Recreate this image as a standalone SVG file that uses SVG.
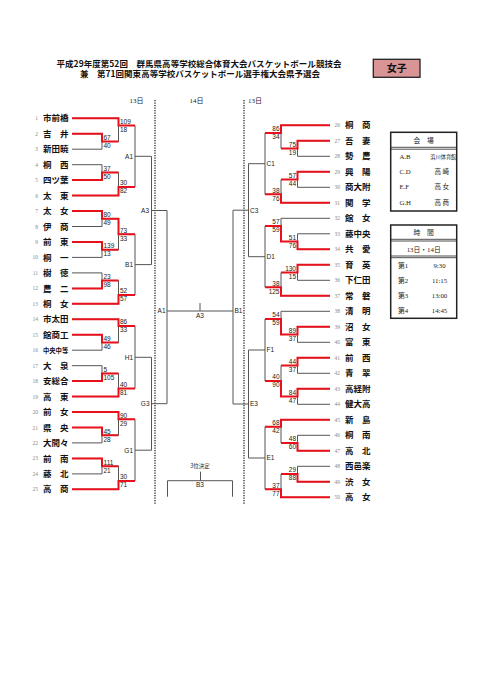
<svg xmlns="http://www.w3.org/2000/svg" width="481" height="680" viewBox="0 0 481 680">
<style>
.g{stroke:#555;stroke-width:1;fill:none}
.r{stroke:#e8101a;stroke-width:2;fill:none;stroke-linejoin:miter}
.dot{stroke:#222;stroke-width:1.3;stroke-dasharray:1.2 1.3;fill:none}
.sc{font-family:"Liberation Sans",Arial,sans-serif;font-size:6.5px;fill:#222}
.scr{font-family:"Liberation Sans",Arial,sans-serif;font-size:6.5px;fill:#222;text-anchor:end}
.lb{font-family:"Liberation Sans",Arial,sans-serif;font-size:6.5px;fill:#222}
.no{font-family:"Liberation Serif",serif;font-size:5.5px;fill:#888}
.nor{font-family:"Liberation Serif",serif;font-size:5.5px;fill:#888;text-anchor:end}
.nm{font-family:"Noto Sans CJK JP",sans-serif;font-size:8.5px;font-weight:bold;fill:#111}
.tt{font-family:"Noto Sans CJK JP",sans-serif;font-size:8.5px;font-weight:bold;fill:#111;text-anchor:middle}
.tb{font-family:"Liberation Serif","Noto Sans CJK JP",serif;font-size:6.8px;fill:#222}
.tbm{font-family:"Liberation Serif","Noto Sans CJK JP",serif;font-size:6.8px;fill:#222;text-anchor:middle}
.jp{font-family:"Noto Sans CJK JP",sans-serif}
.box{fill:none;stroke:#222;stroke-width:1.5}
.rule{stroke:#222;stroke-width:0.8}
</style>

<g id="title">
<text class="tt" x="199" y="66.5" textLength="285">平成29年度第52回　群馬県高等学校総合体育大会バスケットボール競技会</text>
<text class="tt" x="200" y="77.2" textLength="240">兼　第71回関東高等学校バスケットボール選手権大会県予選会</text>
</g>
<g id="girls-tag">
<rect x="373.3" y="59.3" width="46.7" height="18" fill="#d99595" stroke="#222" stroke-width="1.3"/>
<text class="tt" x="396.7" y="72" style="font-size:10px">女子</text>
</g>
<g id="days" class="tbm">
<text x="136.5" y="103" style="font-size:7px">13日</text>
<text x="196.5" y="103" style="font-size:7px">14日</text>
<text x="255" y="103" style="font-size:7px">13日</text>
</g>
<g id="day-dividers">
<line class="dot" x1="155" y1="100" x2="155" y2="505"/>
<line class="dot" x1="244" y1="100" x2="244" y2="505"/>
</g>

<g id="connectors">
<path class="g" d="M72 118.3H118.5 M72 133.8H102 M72 149.2H102 M102 133.8V149.2 M102 141.5H118.5 M118.5 118.3V141.5 M118.5 125.5H135 M72 164.7H102 M72 180.1H102 M102 164.7V180.1 M102 172.4H118.5 M72 195.6H118.5 M118.5 172.4V195.6 M118.5 187H135 M135 125.5V187 M135 156.3H151.5
M72 211.1H102 M72 226.5H102 M102 211.1V226.5 M102 218.8H118.5 M72 242H102 M72 257.4H102 M102 242V257.4 M102 249.7H118.5 M118.5 218.8V249.7 M118.5 234.2H135 M72 272.9H102 M72 288.4H102 M102 272.9V288.4 M102 280.6H118.5 M72 303.8H118.5 M118.5 280.6V303.8 M118.5 295H135 M135 234.2V295 M135 264.6H151.5 M151.5 156.3V264.6 M151.5 210.5H167
M72 319.3H118.5 M72 334.7H102 M72 350.2H102 M102 334.7V350.2 M102 342.5H118.5 M118.5 319.3V342.5 M118.5 326H135 M72 365.7H102 M72 381.1H102 M102 365.7V381.1 M102 373.4H118.5 M72 396.6H118.5 M118.5 373.4V396.6 M118.5 388.5H135 M135 326V388.5 M135 357.3H151.5
M72 412H118.5 M72 427.5H102 M72 442.9H102 M102 427.5V442.9 M102 435.2H118.5 M118.5 412V435.2 M118.5 419.3H135 M72 458.4H102 M72 473.9H102 M102 458.4V473.9 M102 466.2H118.5 M72 489.3H118.5 M118.5 466.2V489.3 M118.5 481H135 M135 419.3V481 M135 450.2H151.5 M151.5 357.3V450.2 M151.5 403.7H167 M167 210.5V403.7
M167 311H233 M200 303V311 M167.5 496.7V480.7H232.5V496.7 M200.5 471.7V480.7
M330 125.3H281 M330 140.8H297.5 M330 156.3H297.5 M297.5 140.8V156.3 M297.5 148.5H281 M281 125.3V148.5 M281 133H265 M330 171.8H297.5 M330 187.3H297.5 M297.5 171.8V187.3 M297.5 179.5H281 M330 202.8H281 M281 179.5V202.8 M281 194.3H265 M265 133V194.3 M265 163.7H248.5
M330 218.3H281 M330 233.8H297.5 M330 249.3H297.5 M297.5 233.8V249.3 M297.5 241.5H281 M281 218.3V241.5 M281 226H265 M330 264.8H297.5 M330 280.3H297.5 M297.5 264.8V280.3 M297.5 272.5H281 M330 295.8H281 M281 272.5V295.8 M281 287.3H265 M265 226V287.3 M265 256.7H248.5 M248.5 163.7V256.7 M248.5 210.2H233
M330 311.3H281 M330 326.8H297.5 M330 342.3H297.5 M297.5 326.8V342.3 M297.5 334.5H281 M281 311.3V334.5 M281 319H265 M330 357.8H297.5 M330 373.3H297.5 M297.5 357.8V373.3 M297.5 365.5H281 M330 388.8H297.5 M330 404.3H297.5 M297.5 388.8V404.3 M297.5 396.5H281 M281 365.5V396.5 M281 381H265 M265 319V381 M265 350H248.5
M330 419.8H281 M330 435.3H297.5 M330 450.8H297.5 M297.5 435.3V450.8 M297.5 443H281 M281 419.8V443 M281 426.7H265 M330 466.3H297.5 M330 481.8H297.5 M297.5 466.3V481.8 M297.5 474H281 M330 497.3H281 M281 474V497.3 M281 489.3H265 M265 426.7V489.3 M265 458H248.5 M248.5 350V458 M248.5 404H233 M233 210.2V404"/>
<path class="r" d="M72 118.3H118.5V125.5H135 M72 133.8H102V141.5H118.5 M72 180.1H102V172.4H118.5 M72 195.6H118.5V187H135
M72 211.1H102V218.8H118.5V234.2H135 M72 242H102V249.7H118.5 M72 288.4H102V280.6H118.5 M72 303.8H118.5V295H135
M72 319.3H118.5V326H135 M72 334.7H102V342.5H118.5 M72 381.1H102V373.4H118.5 M72 396.6H118.5V388.5H135
M72 412H118.5V419.3H135 M72 427.5H102V435.2H118.5 M72 458.4H102V466.2H118.5 M72 489.3H118.5V481H135
M330 125.3H281V133H265 M330 140.8H297.5V148.5H281 M330 171.8H297.5V179.5H281 M330 202.8H281V194.3H265
M330 249.3H297.5V241.5H281V226H265 M330 264.8H297.5V272.5H281 M330 295.8H281V287.3H265
M330 326.8H297.5V334.5H281V319H265 M330 357.8H297.5V365.5H281 M330 388.8H297.5V396.5H281V381H265
M330 419.8H281V426.7H265 M330 450.8H297.5V443H281 M330 481.8H297.5V474H281 M330 497.3H281V489.3H265"/>
</g>

<g id="scores-left" class="sc">
<text x="103.5" y="139.9">67</text><text x="103.5" y="147.9">40</text>
<text x="120" y="123.9">109</text><text x="120" y="131.9">18</text>
<text x="103.5" y="170.8">37</text><text x="103.5" y="178.8">50</text>
<text x="120" y="185.4">30</text><text x="120" y="193.4">82</text>
<text x="103.5" y="217.2">80</text><text x="103.5" y="225.2">49</text>
<text x="103.5" y="248.1">139</text><text x="103.5" y="256.1">13</text>
<text x="120" y="232.6">73</text><text x="120" y="240.6">33</text>
<text x="103.5" y="279">23</text><text x="103.5" y="287">98</text>
<text x="120" y="293.4">52</text><text x="120" y="301.4">57</text>
<text x="103.5" y="340.9">49</text><text x="103.5" y="348.9">46</text>
<text x="120" y="324.4">86</text><text x="120" y="332.4">33</text>
<text x="103.5" y="371.8">5</text><text x="103.5" y="379.8">105</text>
<text x="120" y="386.9">40</text><text x="120" y="394.9">81</text>
<text x="103.5" y="433.6">45</text><text x="103.5" y="441.6">28</text>
<text x="120" y="417.7">90</text><text x="120" y="425.7">29</text>
<text x="103.5" y="464.6">111</text><text x="103.5" y="472.6">21</text>
<text x="120" y="479.4">30</text><text x="120" y="487.4">71</text>
</g>
<g id="scores-right" class="scr">
<text x="296" y="146.9">75</text><text x="296" y="154.9">19</text>
<text x="279.5" y="131.4">86</text><text x="279.5" y="139.4">34</text>
<text x="296" y="177.9">57</text><text x="296" y="185.9">44</text>
<text x="279.5" y="192.7">38</text><text x="279.5" y="200.7">76</text>
<text x="296" y="239.9">51</text><text x="296" y="247.9">76</text>
<text x="279.5" y="224.4">57</text><text x="279.5" y="232.4">59</text>
<text x="296" y="270.9">130</text><text x="296" y="278.9">15</text>
<text x="279.5" y="285.7">38</text><text x="279.5" y="293.7">125</text>
<text x="296" y="332.9">89</text><text x="296" y="340.9">37</text>
<text x="279.5" y="317.4">54</text><text x="279.5" y="325.4">59</text>
<text x="296" y="363.9">44</text><text x="296" y="371.9">37</text>
<text x="296" y="394.9">84</text><text x="296" y="402.9">47</text>
<text x="279.5" y="379.4">40</text><text x="279.5" y="387.4">90</text>
<text x="296" y="441.4">48</text><text x="296" y="449.4">60</text>
<text x="279.5" y="425.1">68</text><text x="279.5" y="433.1">42</text>
<text x="296" y="472.4">29</text><text x="296" y="480.4">88</text>
<text x="279.5" y="487.7">37</text><text x="279.5" y="495.7">77</text>
</g>

<g id="game-labels" class="lb">
<text id="g-A1" x="133" y="158.6" text-anchor="end">A1</text>
<text id="g-B1" x="133" y="266.9" text-anchor="end">B1</text>
<text id="g-A3" x="149" y="212.8" text-anchor="end">A3</text>
<text id="g-H1" x="133" y="359.6" text-anchor="end">H1</text>
<text id="g-G1" x="133" y="452.5" text-anchor="end">G1</text>
<text id="g-G3" x="149.5" y="406" text-anchor="end">G3</text>
<text id="g-semiA1" x="165.5" y="313.3" text-anchor="end">A1</text>
<text id="g-semiB1" x="234.5" y="313.3">B1</text>
<text id="g-finalA3" x="200" y="317.8" text-anchor="middle">A3</text>
<text id="g-C1" x="266.5" y="166">C1</text>
<text id="g-D1" x="266.5" y="259">D1</text>
<text id="g-C3" x="250" y="212.5">C3</text>
<text id="g-F1" x="266.5" y="352.3">F1</text>
<text id="g-E1" x="266.5" y="460.3">E1</text>
<text id="g-E3" x="250" y="406.3">E3</text>
<text id="g-3rd" x="200" y="468" text-anchor="middle" style="font-family:'Noto Sans CJK JP',sans-serif;font-size:5.5px">3位決定</text>
<text id="g-B3" x="200" y="487.3" text-anchor="middle">B3</text>
</g>

<g id="teams-left">
<g id="t1"><text class="nor" x="38" y="120.3">1</text><text class="nm" x="43" y="121.4">市前橋</text></g>
<g id="t2"><text class="nor" x="38" y="135.8">2</text><text class="nm" x="43 60" y="136.9">吉井</text></g>
<g id="t3"><text class="nor" x="38" y="151.2">3</text><text class="nm" x="43" y="152.3">新田暁</text></g>
<g id="t4"><text class="nor" x="38" y="166.7">4</text><text class="nm" x="43 60" y="167.8">桐西</text></g>
<g id="t5"><text class="nor" x="38" y="182.1">5</text><text class="nm" x="43" y="183.2">四ツ葉</text></g>
<g id="t6"><text class="nor" x="38" y="197.6">6</text><text class="nm" x="43 60" y="198.7">太東</text></g>
<g id="t7"><text class="nor" x="38" y="213.1">7</text><text class="nm" x="43 60" y="214.2">太女</text></g>
<g id="t8"><text class="nor" x="38" y="228.5">8</text><text class="nm" x="43 60" y="229.6">伊商</text></g>
<g id="t9"><text class="nor" x="38" y="244">9</text><text class="nm" x="43 60" y="245.1">前東</text></g>
<g id="t10"><text class="nor" x="38" y="259.4">10</text><text class="nm" x="43 60" y="260.5">桐一</text></g>
<g id="t11"><text class="nor" x="38" y="274.9">11</text><text class="nm" x="43 60" y="276">樹徳</text></g>
<g id="t12"><text class="nor" x="38" y="290.4">12</text><text class="nm" x="43 60" y="291.5">農二</text></g>
<g id="t13"><text class="nor" x="38" y="305.8">13</text><text class="nm" x="43 60" y="306.9">桐女</text></g>
<g id="t14"><text class="nor" x="38" y="321.3">14</text><text class="nm" x="43" y="322.4">市太田</text></g>
<g id="t15"><text class="nor" x="38" y="336.7">15</text><text class="nm" x="43" y="337.8">館商工</text></g>
<g id="t16"><text class="nor" x="38" y="352.2">16</text><text class="nm" x="43" y="352.5" style="font-size:6.3px">中央中等</text></g>
<g id="t17"><text class="nor" x="38" y="367.7">17</text><text class="nm" x="43 60" y="368.8">大泉</text></g>
<g id="t18"><text class="nor" x="38" y="383.1">18</text><text class="nm" x="43" y="384.2">安総合</text></g>
<g id="t19"><text class="nor" x="38" y="398.6">19</text><text class="nm" x="43 60" y="399.7">高東</text></g>
<g id="t20"><text class="nor" x="38" y="414">20</text><text class="nm" x="43 60" y="415.1">前女</text></g>
<g id="t21"><text class="nor" x="38" y="429.5">21</text><text class="nm" x="43 60" y="430.6">県央</text></g>
<g id="t22"><text class="nor" x="38" y="444.9">22</text><text class="nm" x="43" y="446">大間々</text></g>
<g id="t23"><text class="nor" x="38" y="460.4">23</text><text class="nm" x="43 60" y="461.5">前南</text></g>
<g id="t24"><text class="nor" x="38" y="475.9">24</text><text class="nm" x="43 60" y="477">藤北</text></g>
<g id="t25"><text class="nor" x="38" y="491.3">25</text><text class="nm" x="43 60" y="492.4">高商</text></g>
</g>

<g id="teams-right">
<g id="t26"><text class="no" x="334.5" y="127.3">26</text><text class="nm" x="345 362" y="128.4">桐商</text></g>
<g id="t27"><text class="no" x="334.5" y="142.8">27</text><text class="nm" x="345 362" y="143.9">吾妻</text></g>
<g id="t28"><text class="no" x="334.5" y="158.3">28</text><text class="nm" x="345 362" y="159.4">勢農</text></g>
<g id="t29"><text class="no" x="334.5" y="173.8">29</text><text class="nm" x="345 362" y="174.9">興陽</text></g>
<g id="t30"><text class="no" x="334.5" y="189.3">30</text><text class="nm" x="345" y="190.4">商大附</text></g>
<g id="t31"><text class="no" x="334.5" y="204.8">31</text><text class="nm" x="345 362" y="205.9">関学</text></g>
<g id="t32"><text class="no" x="334.5" y="220.3">32</text><text class="nm" x="345 362" y="221.4">館女</text></g>
<g id="t33"><text class="no" x="334.5" y="235.8">33</text><text class="nm" x="345" y="236.9">藤中央</text></g>
<g id="t34"><text class="no" x="334.5" y="251.3">34</text><text class="nm" x="345 362" y="252.4">共愛</text></g>
<g id="t35"><text class="no" x="334.5" y="266.8">35</text><text class="nm" x="345 362" y="267.9">育英</text></g>
<g id="t36"><text class="no" x="334.5" y="282.3">36</text><text class="nm" x="345" y="283.4">下仁田</text></g>
<g id="t37"><text class="no" x="334.5" y="297.8">37</text><text class="nm" x="345 362" y="298.9">常磐</text></g>
<g id="t38"><text class="no" x="334.5" y="313.3">38</text><text class="nm" x="345 362" y="314.4">清明</text></g>
<g id="t39"><text class="no" x="334.5" y="328.8">39</text><text class="nm" x="345 362" y="329.9">沼女</text></g>
<g id="t40"><text class="no" x="334.5" y="344.3">40</text><text class="nm" x="345 362" y="345.4">富東</text></g>
<g id="t41"><text class="no" x="334.5" y="359.8">41</text><text class="nm" x="345 362" y="360.9">前西</text></g>
<g id="t42"><text class="no" x="334.5" y="375.3">42</text><text class="nm" x="345 362" y="376.4">青翠</text></g>
<g id="t43"><text class="no" x="334.5" y="390.8">43</text><text class="nm" x="345" y="391.9">高経附</text></g>
<g id="t44"><text class="no" x="334.5" y="406.3">44</text><text class="nm" x="345" y="407.4">健大高</text></g>
<g id="t45"><text class="no" x="334.5" y="421.8">45</text><text class="nm" x="345 362" y="422.9">新島</text></g>
<g id="t46"><text class="no" x="334.5" y="437.3">46</text><text class="nm" x="345 362" y="438.4">桐南</text></g>
<g id="t47"><text class="no" x="334.5" y="452.8">47</text><text class="nm" x="345 362" y="453.9">高北</text></g>
<g id="t48"><text class="no" x="334.5" y="468.3">48</text><text class="nm" x="345" y="469.4">西邑楽</text></g>
<g id="t49"><text class="no" x="334.5" y="483.8">49</text><text class="nm" x="345 362" y="484.9">渋女</text></g>
<g id="t50"><text class="no" x="334.5" y="499.3">50</text><text class="nm" x="345 362" y="500.4">高女</text></g>
</g>

<g id="venue-table">
<rect class="box" x="390.7" y="132.3" width="66" height="78.7"/>
<line class="rule" x1="390.7" y1="147.3" x2="456.7" y2="147.3"/>
<line class="rule" x1="390.7" y1="149.2" x2="456.7" y2="149.2"/>
<text class="tbm jp" x="423.7" y="142.6">会　場</text>
<text class="tb" x="399.5" y="159.2">A.B</text><text class="tbm jp" x="443.3" y="159" textLength="26" style="font-size:5.2px">浜川体育館</text>
<text class="tb" x="399.5" y="174.2">C.D</text><text class="tbm jp" x="441.7" y="174.2" style="font-size:6.5px">高 崎</text>
<text class="tb" x="399.5" y="189.2">E.F</text><text class="tbm jp" x="441.7" y="189.2" style="font-size:6.5px">高 女</text>
<text class="tb" x="399.5" y="204.8">G.H</text><text class="tbm jp" x="441.7" y="204.8" style="font-size:6.5px">高 商</text>
</g>

<g id="time-table">
<rect class="box" x="390.7" y="225" width="66" height="93.3"/>
<line class="rule" x1="390.7" y1="239.3" x2="456.7" y2="239.3"/>
<line class="rule" x1="390.7" y1="241" x2="456.7" y2="241"/>
<line class="rule" x1="390.7" y1="256" x2="456.7" y2="256"/>
<line class="rule" x1="390.7" y1="257.7" x2="456.7" y2="257.7"/>
<text class="tbm jp" x="423.7" y="234.8">時　間</text>
<text class="tbm" x="423.7" y="251.5">13日・14日</text>
<text class="tb" x="398" y="267.5">第1</text><text class="tbm" x="439.5" y="267.5">9:30</text>
<text class="tb" x="398" y="282.5">第2</text><text class="tbm" x="439.5" y="282.5">11:15</text>
<text class="tb" x="398" y="297.5">第3</text><text class="tbm" x="439.5" y="297.5">13:00</text>
<text class="tb" x="398" y="312.5">第4</text><text class="tbm" x="439.5" y="312.5">14:45</text>
</g>
</svg>
